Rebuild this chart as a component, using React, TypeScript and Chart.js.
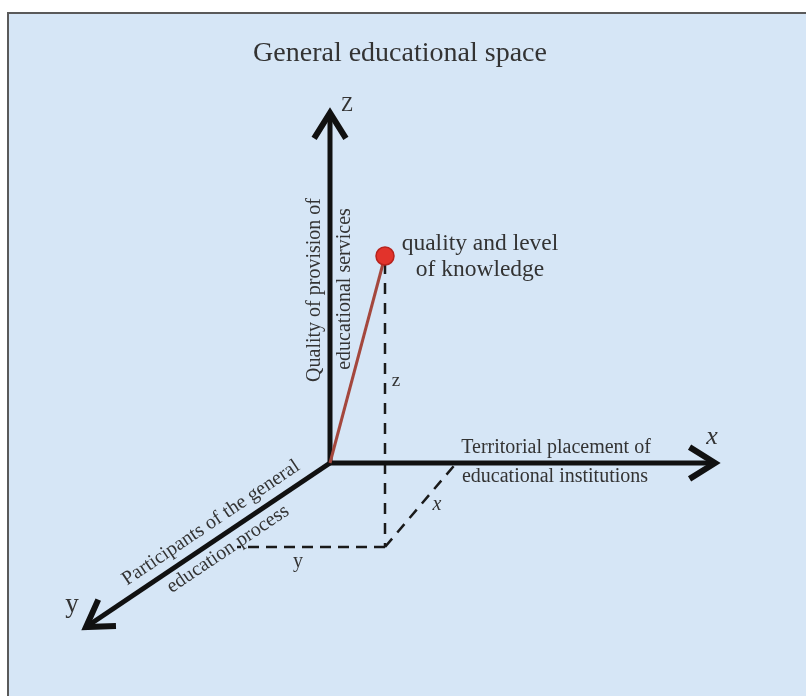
import { useEffect, useRef } from "react";
import { Chart, registerables } from "chart.js";
Chart.register(...registerables);

// Diagram data (data units: origin of the 3D axes at 0,0)
const TITLE = "General educational space";
const axisX = [{ x: 0, y: 0 }, { x: 385, y: 0 }];
const axisY = [{ x: 0, y: 0 }, { x: -244, y: -164 }];
const axisZ = [{ x: 0, y: 0 }, { x: 0, y: 350 }];
const knowledgePoint = [{ x: 55, y: 207 }];
const vector = [{ x: 0, y: 0 }, { x: 55, y: 207 }];
const dropZ = [{ x: 55, y: 200 }, { x: 55, y: -84 }];
const projX = [{ x: 55, y: -84 }, { x: 128, y: 2 }];
const projY = [{ x: 55, y: -84 }, { x: -93, y: -84 }];
const axisNames = ["x", "y", "Z"];
const axisCaptionX = ["Territorial placement of", "educational institutions"];
const axisCaptionY = ["Participants of the general", "education process"];
const axisCaptionZ = ["Quality of provision of", "educational services"];
const pointCaption = ["quality and level", "of knowledge"];
const componentNames = ["x", "y", "z"];

const SERIF = "'Liberation Serif', 'Times New Roman', serif";
const TEXT = "#333";

type Lbl = { t: string; x: number; y: number; font: string; rot?: number; align?: CanvasTextAlign };

const yRot = -Math.atan2(164, 244);
const labels: Lbl[] = [
  { t: TITLE, x: 70, y: 409, font: `28px ${SERIF}` },
  { t: axisNames[2], x: 17, y: 357, font: `20px ${SERIF}` },
  { t: axisNames[0], x: 382, y: 26, font: `italic 26px ${SERIF}` },
  { t: axisNames[1], x: -258, y: -142, font: `27px ${SERIF}` },
  { t: componentNames[2], x: 66, y: 82, font: `19px ${SERIF}` },
  { t: componentNames[0], x: 107, y: -42, font: `italic 20px ${SERIF}` },
  { t: componentNames[1], x: -32, y: -99, font: `20px ${SERIF}` },
  { t: pointCaption[0], x: 150, y: 219, font: `23.5px ${SERIF}` },
  { t: pointCaption[1], x: 150, y: 193, font: `23.5px ${SERIF}` },
  { t: axisCaptionZ[0], x: -15, y: 173, font: `20px ${SERIF}`, rot: -Math.PI / 2 },
  { t: axisCaptionZ[1], x: 15, y: 174, font: `20px ${SERIF}`, rot: -Math.PI / 2 },
  { t: axisCaptionX[0], x: 226, y: 15, font: `20px ${SERIF}` },
  { t: axisCaptionX[1], x: 225, y: -14, font: `20px ${SERIF}` },
  { t: axisCaptionY[0], x: -119, y: -60, font: `20px ${SERIF}`, rot: yRot },
  { t: axisCaptionY[1], x: -102, y: -86, font: `20px ${SERIF}`, rot: yRot },
];

const backgroundPlugin = {
  id: "bg",
  beforeDraw(chart: any) {
    const { ctx, width, height } = chart;
    ctx.save();
    ctx.fillStyle = "#ffffff";
    ctx.fillRect(0, 0, width, height);
    ctx.fillStyle = "#d6e6f6";
    ctx.fillRect(8, 13, width - 8, height - 13);
    ctx.strokeStyle = "#5a5a5a";
    ctx.lineWidth = 2;
    ctx.beginPath();
    ctx.moveTo(8, height);
    ctx.lineTo(8, 13);
    ctx.lineTo(width, 13);
    ctx.stroke();
    ctx.restore();
  },
};

const arrowPlugin = {
  id: "arrows",
  afterDatasetsDraw(chart: any) {
    const { ctx } = chart;
    const xs = chart.scales.x;
    const ys = chart.scales.y;
    ctx.save();
    ctx.strokeStyle = "#111";
    ctx.lineWidth = 6;
    ctx.lineJoin = "miter";
    ctx.lineCap = "butt";
    [axisX, axisY, axisZ].forEach((ax) => {
      const tx = xs.getPixelForValue(ax[1].x);
      const ty = ys.getPixelForValue(ax[1].y);
      const ox = xs.getPixelForValue(ax[0].x);
      const oy = ys.getPixelForValue(ax[0].y);
      const ang = Math.atan2(oy - ty, ox - tx);
      const half = (32 * Math.PI) / 180;
      const len = 30;
      ctx.beginPath();
      ctx.moveTo(tx + len * Math.cos(ang + half), ty + len * Math.sin(ang + half));
      ctx.lineTo(tx, ty);
      ctx.lineTo(tx + len * Math.cos(ang - half), ty + len * Math.sin(ang - half));
      ctx.stroke();
    });
    ctx.restore();
  },
  afterDraw(chart: any) {
    const { ctx } = chart;
    const xs = chart.scales.x;
    const ys = chart.scales.y;
    ctx.save();
    ctx.fillStyle = TEXT;
    ctx.textBaseline = "middle";
    labels.forEach((l) => {
      ctx.save();
      ctx.translate(xs.getPixelForValue(l.x), ys.getPixelForValue(l.y));
      if (l.rot) ctx.rotate(l.rot);
      ctx.font = l.font;
      ctx.textAlign = l.align || "center";
      ctx.fillText(l.t, 0, 0);
      ctx.restore();
    });
    ctx.restore();
  },
};

export default function App() {
  const ref = useRef<HTMLCanvasElement>(null);
  useEffect(() => {
    document.body.style.margin = "0";
    const line = (data: any[], color: string, width: number, dash: number[] = []) => ({
      data,
      showLine: true,
      borderColor: color,
      borderWidth: width,
      borderDash: dash,
      pointRadius: 0,
      fill: false,
      borderCapStyle: "butt",
    });
    const chart = new Chart(ref.current!, {
      type: "scatter",
      data: {
        datasets: [
          {
            data: knowledgePoint,
            pointRadius: 9,
            pointBackgroundColor: "#e2332b",
            pointBorderColor: "#b7231d",
            pointBorderWidth: 1.5,
            showLine: false,
          } as any,
          line(vector, "#a4473d", 3),
          line(axisX, "#111", 5),
          line(axisY, "#111", 5),
          line(axisZ, "#111", 5),
          line(dropZ, "#1a1a1a", 2.5, [11, 9]),
          line(projX, "#1a1a1a", 2.5, [11, 8]),
          line(projY, "#1a1a1a", 2.5, [11, 7]),
        ],
      },
      options: {
        animation: false,
        responsive: false,
        devicePixelRatio: 1,
        layout: { padding: 0, autoPadding: false },
        plugins: { legend: { display: false }, tooltip: { enabled: false }, title: { display: false } },
        scales: {
          x: { type: "linear", min: -330, max: 476, display: false },
          y: { type: "linear", min: -233, max: 463, display: false },
        },
        elements: { line: { tension: 0 } },
      },
      plugins: [backgroundPlugin, arrowPlugin],
    });
    return () => chart.destroy();
  }, []);
  return <canvas ref={ref} width={806} height={696} style={{ display: "block" }} />;
}
